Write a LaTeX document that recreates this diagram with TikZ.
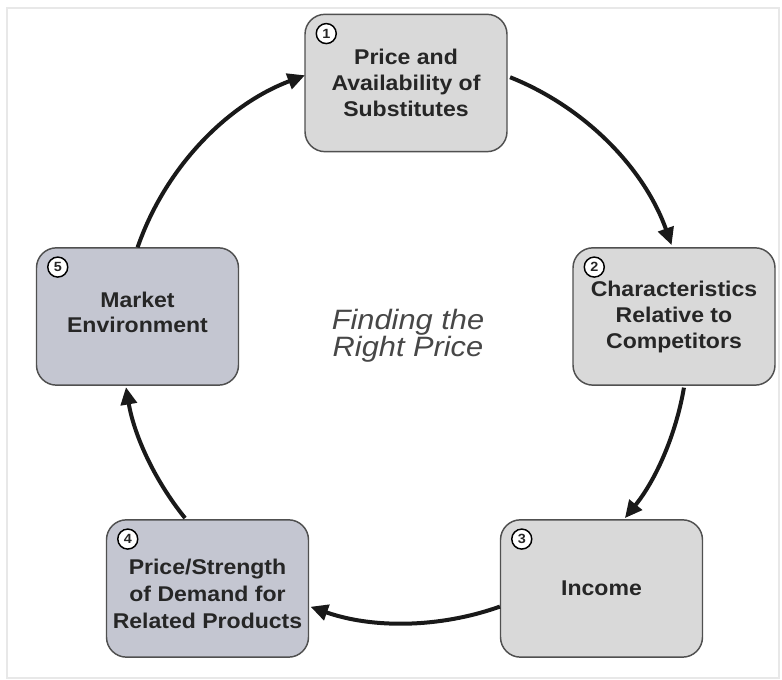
\documentclass[tikz,border=0pt]{standalone}
\usepackage{fontspec}
\usetikzlibrary{arrows.meta}
\newfontfamily\boxfont[FakeStretch=1.08]{Liberation Sans}
\newfontfamily\midfont[FakeStretch=1.1]{Liberation Sans}
\definecolor{boxgray}{RGB}{217,217,217}
\definecolor{boxblue}{RGB}{196,198,209}
\definecolor{edgegray}{RGB}{80,80,80}
\definecolor{txt}{RGB}{38,38,38}
\definecolor{framegray}{RGB}{232,232,232}
\tikzset{
  stepbox/.style={draw=edgegray, line width=1.1pt, rounded corners=15pt,
    minimum width=151.5pt, minimum height=103pt, align=center, text=txt,
    font=\boxfont\bfseries\fontsize{16}{19.5}\selectfont},
  boxtext/.style={align=center, text=txt, inner sep=0pt,
    font=\boxfont\bfseries\fontsize{16}{20}\selectfont},
  numcirc/.style={circle, draw=black, fill=white, line width=1.1pt, inner sep=0pt,
    minimum size=15pt, font=\boxfont\bfseries\fontsize{10}{10}\selectfont, text=txt},
  cyc/.style={line width=3pt, draw=black!90, -{Triangle[length=13pt,width=12pt]}}
}
\begin{document}
\begin{tikzpicture}[x=0.75pt,y=0.75pt]
\useasboundingbox (0,0) rectangle (782,680);
\draw[framegray, line width=2pt] (7,2) rectangle (779,672);
% boxes
\node[stepbox, fill=boxgray] (b1) at (406,597) {Price and\\Availability of\\Substitutes};
\node[stepbox, fill=boxgray] (b2) at (674,363.5) {Characteristics\\Relative to\\Competitors};
\node[stepbox, fill=boxgray] (b3) at (601.5,91.5) {Income};
\node[stepbox, fill=boxblue] (b4) at (207.5,91.5) {};
\node[boxtext] (t4) at ([yshift=-4pt]b4.center) {Price/Strength\\of Demand for\\Related Products};
\node[stepbox, fill=boxblue] (b5) at (137.5,363.5) {};
\node[boxtext, font=\boxfont\bfseries\fontsize{16}{19}\selectfont] (t5) at ([yshift=3pt]b5.center) {Market\\Environment};
% numbers
\node[numcirc] (n1) at ([xshift=16.5pt,yshift=-15pt]b1.north west) {1};
\node[numcirc] (n2) at ([xshift=16.5pt,yshift=-15pt]b2.north west) {2};
\node[numcirc] (n3) at ([xshift=16.5pt,yshift=-15pt]b3.north west) {3};
\node[numcirc] (n4) at ([xshift=16.5pt,yshift=-15pt]b4.north west) {4};
\node[numcirc] (n5) at ([xshift=16.5pt,yshift=-15pt]b5.north west) {5};
% centre text
\node[align=center, text=txt!85, font=\midfont\itshape\fontsize{21}{19.5}\selectfont] (mid) at (408,344) {Finding the\\Right Price};
% cycle arrows
\coordinate (c) at (405,340);
\draw[cyc] ([shift={(160.9:283)}]c) arc[start angle=160.9, end angle=110.7, radius=283];
\draw[cyc] ([shift={(68.2:283)}]c) arc[start angle=68.2, end angle=19.6, radius=283];
\draw[cyc] ([shift={(-9.7:283)}]c) arc[start angle=-9.7, end angle=-39, radius=283];
\draw[cyc] ([shift={(-70.4:283)}]c) arc[start angle=-70.4, end angle=-109.5, radius=283];
\draw[cyc] ([shift={(-141:283)}]c) arc[start angle=-141, end angle=-170.4, radius=283];
\end{tikzpicture}
\end{document}
